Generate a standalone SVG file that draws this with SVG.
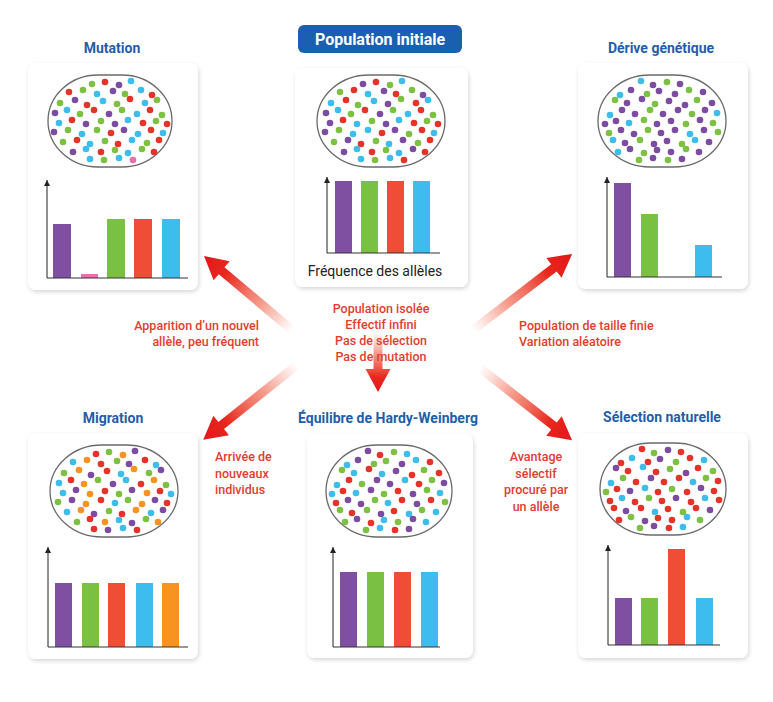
<svg xmlns="http://www.w3.org/2000/svg" width="773" height="702" viewBox="0 0 773 702">
<defs>
<style>
.card{fill:#fff;filter:url(#sh)}
.pop{fill:none;stroke:#6a6a6a;stroke-width:1.3}
.p{fill:#7b4c9f}.g{fill:#7dc143}.r{fill:#e63329}.b{fill:#3dbdec}.o{fill:#f7931e}.k{fill:#ea6cad}
.bp{fill:#7f4fa2}.bg{fill:#7ac143}.br{fill:#f04d37}.bb{fill:#3cbdee}.bo{fill:#f7931e}.bk{fill:#e86fb0}
.ax{stroke:#333;stroke-width:1;fill:none}
.ya{stroke:#222;stroke-width:1;fill:none;marker-end:url(#ah)}
.ti{font-family:Roboto,"Liberation Sans",sans-serif;font-weight:700;font-size:14px;fill:#1f5ea9;text-anchor:middle}
.lb{font-family:Roboto,"Liberation Sans",sans-serif;font-weight:500;font-size:12.5px;fill:#e23d2f}
.mid{text-anchor:middle}.end{text-anchor:end}
</style>
<filter id="sh" x="-10%" y="-10%" width="120%" height="120%">
<feDropShadow dx="1" dy="2" stdDeviation="2" flood-color="#000" flood-opacity="0.16"/>
</filter>
<marker id="ah" viewBox="0 0 8 8" refX="8" refY="4" markerWidth="7" markerHeight="6" markerUnits="userSpaceOnUse" orient="auto">
<path d="M0,0 L8,4 L0,8 z" fill="#222"/>
</marker>
<linearGradient id="ag" x1="0" y1="0" x2="1" y2="0">
<stop offset="0" stop-color="#f26b4f" stop-opacity="0"/>
<stop offset="0.35" stop-color="#ef5a40" stop-opacity="0.6"/>
<stop offset="0.75" stop-color="#e8281e" stop-opacity="1"/>
<stop offset="1" stop-color="#e3161b" stop-opacity="1"/>
</linearGradient>
</defs>
<rect width="773" height="702" fill="#fff"/>

<g id="connectors">
<g transform="translate(292,330) rotate(220.1)"><polygon fill="url(#ag)" points="0,-4.5 92,-4.5 92,-12.5 115,0 92,12.5 92,4.5 0,4.5"/></g>
<g transform="translate(473,330) rotate(-37.5)"><polygon fill="url(#ag)" points="0,-4.5 102,-4.5 102,-12.5 125,0 102,12.5 102,4.5 0,4.5"/></g>
<g transform="translate(297,365) rotate(141.4)"><polygon fill="url(#ag)" points="0,-4.5 97,-4.5 97,-12.5 120,0 97,12.5 97,4.5 0,4.5"/></g>
<g transform="translate(480,368) rotate(38.1)"><polygon fill="url(#ag)" points="0,-4.5 94,-4.5 94,-12.5 117,0 94,12.5 94,4.5 0,4.5"/></g>
<g transform="translate(378,332) rotate(90)"><polygon fill="url(#ag)" points="0,-4.5 37,-4.5 37,-12.5 60,0 37,12.5 37,4.5 0,4.5"/></g>
</g>

<g id="labels">
<text class="lb mid" x="381" y="313">Population isolée</text>
<text class="lb mid" x="381" y="329">Effectif infini</text>
<text class="lb mid" x="381" y="345">Pas de sélection</text>
<text class="lb mid" x="381" y="361">Pas de mutation</text>
<text class="lb end" x="259" y="330">Apparition d’un nouvel</text>
<text class="lb end" x="259" y="346">allèle, peu fréquent</text>
<text class="lb" x="519" y="330">Population de taille finie</text>
<text class="lb" x="519" y="346">Variation aléatoire</text>
<text class="lb" x="215" y="461">Arrivée de</text>
<text class="lb" x="215" y="478">nouveaux</text>
<text class="lb" x="215" y="494">individus</text>
<text class="lb mid" x="536" y="461">Avantage</text>
<text class="lb mid" x="536" y="478">sélectif</text>
<text class="lb mid" x="536" y="494">procuré par</text>
<text class="lb mid" x="536" y="511">un allèle</text>
</g>

<g id="initiale">
<rect x="298" y="25" width="164" height="28" rx="6" fill="#1b5fb0"/>
<text x="380" y="45" font-family="Roboto,'Liberation Sans',sans-serif" font-weight="700" font-size="16" fill="#fff" text-anchor="middle">Population initiale</text>
<rect class="card" x="295" y="68" width="173" height="219" rx="8"/>
<g transform="translate(381,121)">
<rect class="pop" x="-64" y="-46" width="128" height="92" rx="52" ry="46"/>
<circle class="p" cx="-18" cy="-37" r="3.3"/><circle class="r" cx="-5" cy="-39" r="3.3"/><circle class="g" cx="9" cy="-36" r="3.3"/><circle class="b" cx="21" cy="-40" r="3.3"/>
<circle class="g" cx="-41" cy="-29" r="3.3"/><circle class="r" cx="-27" cy="-31" r="3.3"/><circle class="b" cx="-13" cy="-27" r="3.3"/><circle class="p" cx="3" cy="-30" r="3.3"/><circle class="r" cx="15" cy="-27" r="3.3"/><circle class="g" cx="31" cy="-31" r="3.3"/><circle class="p" cx="42" cy="-26" r="3.3"/>
<circle class="b" cx="-50" cy="-18" r="3.3"/><circle class="r" cx="-35" cy="-21" r="3.3"/><circle class="g" cx="-23" cy="-16" r="3.3"/><circle class="b" cx="-7" cy="-20" r="3.3"/><circle class="p" cx="7" cy="-17" r="3.3"/><circle class="g" cx="20" cy="-22" r="3.3"/><circle class="r" cx="35" cy="-18" r="3.3"/><circle class="b" cx="47" cy="-21" r="3.3"/>
<circle class="p" cx="-55" cy="-8" r="3.3"/><circle class="b" cx="-43" cy="-11" r="3.3"/><circle class="g" cx="-30" cy="-7" r="3.3"/><circle class="r" cx="-16" cy="-11" r="3.3"/><circle class="p" cx="-1" cy="-7" r="3.3"/><circle class="g" cx="12" cy="-11" r="3.3"/><circle class="b" cx="27" cy="-7" r="3.3"/><circle class="r" cx="40" cy="-11" r="3.3"/><circle class="g" cx="52" cy="-6" r="3.3"/>
<circle class="p" cx="-51" cy="2" r="3.3"/><circle class="r" cx="-38" cy="-1" r="3.3"/><circle class="b" cx="-24" cy="3" r="3.3"/><circle class="g" cx="-9" cy="0" r="3.3"/><circle class="p" cx="5" cy="3" r="3.3"/><circle class="b" cx="18" cy="-1" r="3.3"/><circle class="r" cx="33" cy="2" r="3.3"/><circle class="g" cx="46" cy="0" r="3.3"/><circle class="r" cx="57" cy="3" r="3.3"/>
<circle class="p" cx="-56" cy="11" r="3.3"/><circle class="g" cx="-42" cy="9" r="3.3"/><circle class="b" cx="-28" cy="13" r="3.3"/><circle class="b" cx="-13" cy="9" r="3.3"/><circle class="r" cx="1" cy="12" r="3.3"/><circle class="p" cx="14" cy="9" r="3.3"/><circle class="g" cx="28" cy="13" r="3.3"/><circle class="r" cx="41" cy="9" r="3.3"/><circle class="b" cx="53" cy="12" r="3.3"/>
<circle class="g" cx="-47" cy="21" r="3.3"/><circle class="p" cx="-33" cy="19" r="3.3"/><circle class="r" cx="-20" cy="23" r="3.3"/><circle class="g" cx="-5" cy="20" r="3.3"/><circle class="b" cx="8" cy="23" r="3.3"/><circle class="p" cx="22" cy="19" r="3.3"/><circle class="g" cx="37" cy="22" r="3.3"/><circle class="r" cx="49" cy="19" r="3.3"/>
<circle class="p" cx="-37" cy="31" r="3.3"/><circle class="b" cx="-24" cy="28" r="3.3"/><circle class="r" cx="-9" cy="31" r="3.3"/><circle class="g" cx="5" cy="29" r="3.3"/><circle class="b" cx="18" cy="32" r="3.3"/><circle class="p" cx="32" cy="28" r="3.3"/><circle class="r" cx="44" cy="31" r="3.3"/>
<circle class="b" cx="-20" cy="38" r="3.3"/><circle class="g" cx="-6" cy="39" r="3.3"/><circle class="b" cx="9" cy="37" r="3.3"/><circle class="r" cx="23" cy="39" r="3.3"/>
</g>
<rect class="bp" x="335" y="181" width="17" height="72"/><rect class="bg" x="361" y="181" width="17" height="72"/><rect class="br" x="387" y="181" width="17" height="72"/><rect class="bb" x="413" y="181" width="17" height="72"/>
<line class="ax" x1="327" y1="253" x2="440" y2="253"/>
<line class="ya" x1="327" y1="253" x2="327" y2="177"/>
<text x="375" y="276" font-family="Roboto,'Liberation Sans',sans-serif" font-weight="400" font-size="14" fill="#222" text-anchor="middle">Fréquence des allèles</text>
</g>

<g id="mutation">
<text class="ti" x="112" y="53">Mutation</text>
<rect class="card" x="28" y="63" width="170" height="227" rx="8"/>
<g transform="translate(110,121)">
<rect class="pop" x="-62" y="-46" width="124" height="92" rx="50" ry="46"/>
<circle class="g" cx="-18" cy="-37" r="3.3"/><circle class="r" cx="-5" cy="-39" r="3.3"/><circle class="p" cx="9" cy="-36" r="3.3"/><circle class="b" cx="21" cy="-40" r="3.3"/>
<circle class="r" cx="-41" cy="-29" r="3.3"/><circle class="g" cx="-27" cy="-31" r="3.3"/><circle class="b" cx="-13" cy="-27" r="3.3"/><circle class="p" cx="3" cy="-30" r="3.3"/><circle class="g" cx="15" cy="-27" r="3.3"/><circle class="b" cx="31" cy="-31" r="3.3"/><circle class="r" cx="42" cy="-26" r="3.3"/>
<circle class="g" cx="-50" cy="-18" r="3.3"/><circle class="p" cx="-35" cy="-21" r="3.3"/><circle class="r" cx="-23" cy="-16" r="3.3"/><circle class="b" cx="-7" cy="-20" r="3.3"/><circle class="g" cx="7" cy="-17" r="3.3"/><circle class="r" cx="20" cy="-22" r="3.3"/><circle class="b" cx="35" cy="-18" r="3.3"/><circle class="g" cx="47" cy="-21" r="3.3"/>
<circle class="p" cx="-55" cy="-8" r="3.3"/><circle class="b" cx="-43" cy="-11" r="3.3"/><circle class="g" cx="-30" cy="-7" r="3.3"/><circle class="r" cx="-16" cy="-11" r="3.3"/><circle class="p" cx="-1" cy="-7" r="3.3"/><circle class="g" cx="12" cy="-11" r="3.3"/><circle class="b" cx="27" cy="-7" r="3.3"/><circle class="r" cx="40" cy="-11" r="3.3"/><circle class="g" cx="52" cy="-6" r="3.3"/>
<circle class="b" cx="-51" cy="2" r="3.3"/><circle class="r" cx="-38" cy="-1" r="3.3"/><circle class="p" cx="-24" cy="3" r="3.3"/><circle class="g" cx="-9" cy="0" r="3.3"/><circle class="p" cx="5" cy="3" r="3.3"/><circle class="b" cx="18" cy="-1" r="3.3"/><circle class="r" cx="33" cy="2" r="3.3"/><circle class="g" cx="46" cy="0" r="3.3"/><circle class="r" cx="57" cy="3" r="3.3"/>
<circle class="p" cx="-56" cy="11" r="3.3"/><circle class="g" cx="-42" cy="9" r="3.3"/><circle class="b" cx="-28" cy="13" r="3.3"/><circle class="g" cx="-13" cy="9" r="3.3"/><circle class="r" cx="1" cy="12" r="3.3"/><circle class="p" cx="14" cy="9" r="3.3"/><circle class="b" cx="28" cy="13" r="3.3"/><circle class="r" cx="41" cy="9" r="3.3"/><circle class="b" cx="53" cy="12" r="3.3"/>
<circle class="g" cx="-47" cy="21" r="3.3"/><circle class="r" cx="-33" cy="19" r="3.3"/><circle class="b" cx="-20" cy="23" r="3.3"/><circle class="g" cx="-5" cy="20" r="3.3"/><circle class="r" cx="8" cy="23" r="3.3"/><circle class="b" cx="22" cy="19" r="3.3"/><circle class="g" cx="37" cy="22" r="3.3"/><circle class="r" cx="49" cy="19" r="3.3"/>
<circle class="p" cx="-37" cy="31" r="3.3"/><circle class="b" cx="-24" cy="28" r="3.3"/><circle class="r" cx="-9" cy="31" r="3.3"/><circle class="g" cx="5" cy="29" r="3.3"/><circle class="b" cx="18" cy="32" r="3.3"/><circle class="g" cx="32" cy="28" r="3.3"/><circle class="r" cx="44" cy="31" r="3.3"/>
<circle class="b" cx="-20" cy="38" r="3.3"/><circle class="g" cx="-6" cy="39" r="3.3"/><circle class="b" cx="9" cy="37" r="3.3"/><circle class="k" cx="23" cy="39" r="3.3"/>
</g>
<rect class="bp" x="53" y="224" width="18" height="54"/><rect class="bk" x="81" y="274" width="17" height="4"/><rect class="bg" x="107" y="219" width="18" height="59"/><rect class="br" x="134" y="219" width="18" height="59"/><rect class="bb" x="162" y="219" width="18" height="59"/>
<line class="ax" x1="47" y1="278" x2="188" y2="278"/>
<line class="ya" x1="47" y1="278" x2="47" y2="180"/>
</g>

<g id="derive">
<text class="ti" x="661" y="53">Dérive génétique</text>
<rect class="card" x="578" y="63" width="170" height="226" rx="8"/>
<g transform="translate(662,121)">
<rect class="pop" x="-64" y="-46" width="128" height="92" rx="52" ry="46"/>
<g transform="scale(-1,1)">
<circle class="p" cx="-18" cy="-37" r="3.3"/><circle class="g" cx="-5" cy="-39" r="3.3"/><circle class="p" cx="9" cy="-36" r="3.3"/><circle class="b" cx="21" cy="-40" r="3.3"/>
<circle class="p" cx="-41" cy="-29" r="3.3"/><circle class="g" cx="-27" cy="-31" r="3.3"/><circle class="p" cx="-13" cy="-27" r="3.3"/><circle class="p" cx="3" cy="-30" r="3.3"/><circle class="g" cx="15" cy="-27" r="3.3"/><circle class="p" cx="31" cy="-31" r="3.3"/><circle class="b" cx="42" cy="-26" r="3.3"/>
<circle class="p" cx="-50" cy="-18" r="3.3"/><circle class="g" cx="-35" cy="-21" r="3.3"/><circle class="p" cx="-23" cy="-16" r="3.3"/><circle class="p" cx="-7" cy="-20" r="3.3"/><circle class="g" cx="7" cy="-17" r="3.3"/><circle class="p" cx="20" cy="-22" r="3.3"/><circle class="p" cx="35" cy="-18" r="3.3"/><circle class="g" cx="47" cy="-21" r="3.3"/>
<circle class="b" cx="-55" cy="-8" r="3.3"/><circle class="p" cx="-43" cy="-11" r="3.3"/><circle class="g" cx="-30" cy="-7" r="3.3"/><circle class="p" cx="-16" cy="-11" r="3.3"/><circle class="p" cx="-1" cy="-7" r="3.3"/><circle class="g" cx="12" cy="-11" r="3.3"/><circle class="p" cx="27" cy="-7" r="3.3"/><circle class="p" cx="40" cy="-11" r="3.3"/><circle class="b" cx="52" cy="-6" r="3.3"/>
<circle class="g" cx="-51" cy="2" r="3.3"/><circle class="p" cx="-38" cy="-1" r="3.3"/><circle class="g" cx="-24" cy="3" r="3.3"/><circle class="p" cx="-9" cy="0" r="3.3"/><circle class="p" cx="5" cy="3" r="3.3"/><circle class="g" cx="18" cy="-1" r="3.3"/><circle class="b" cx="33" cy="2" r="3.3"/><circle class="p" cx="46" cy="0" r="3.3"/><circle class="p" cx="57" cy="3" r="3.3"/>
<circle class="g" cx="-56" cy="11" r="3.3"/><circle class="p" cx="-42" cy="9" r="3.3"/><circle class="b" cx="-28" cy="13" r="3.3"/><circle class="p" cx="-13" cy="9" r="3.3"/><circle class="p" cx="1" cy="12" r="3.3"/><circle class="g" cx="14" cy="9" r="3.3"/><circle class="p" cx="28" cy="13" r="3.3"/><circle class="p" cx="41" cy="9" r="3.3"/><circle class="g" cx="53" cy="12" r="3.3"/>
<circle class="p" cx="-47" cy="21" r="3.3"/><circle class="b" cx="-33" cy="19" r="3.3"/><circle class="g" cx="-20" cy="23" r="3.3"/><circle class="p" cx="-5" cy="20" r="3.3"/><circle class="p" cx="8" cy="23" r="3.3"/><circle class="g" cx="22" cy="19" r="3.3"/><circle class="p" cx="37" cy="22" r="3.3"/><circle class="b" cx="49" cy="19" r="3.3"/>
<circle class="p" cx="-37" cy="31" r="3.3"/><circle class="g" cx="-24" cy="28" r="3.3"/><circle class="p" cx="-9" cy="31" r="3.3"/><circle class="p" cx="5" cy="29" r="3.3"/><circle class="g" cx="18" cy="32" r="3.3"/><circle class="p" cx="32" cy="28" r="3.3"/><circle class="b" cx="44" cy="31" r="3.3"/>
<circle class="p" cx="-20" cy="38" r="3.3"/><circle class="g" cx="-6" cy="39" r="3.3"/><circle class="p" cx="9" cy="37" r="3.3"/><circle class="g" cx="23" cy="39" r="3.3"/>
</g>
</g>
<rect class="bp" x="614" y="183" width="17" height="94"/><rect class="bg" x="641" y="214" width="17" height="63"/><rect class="bb" x="695" y="245" width="17" height="32"/>
<line class="ax" x1="607" y1="277" x2="722" y2="277"/>
<line class="ya" x1="607" y1="277" x2="607" y2="177"/>
</g>

<g id="migration">
<text class="ti" x="113" y="423">Migration</text>
<rect class="card" x="28" y="433" width="170" height="226" rx="8"/>
<g transform="translate(114,491)">
<rect class="pop" x="-64" y="-46" width="128" height="92" rx="52" ry="46"/>
<circle class="r" cx="-18" cy="-37" r="3.3"/><circle class="g" cx="-5" cy="-39" r="3.3"/><circle class="o" cx="9" cy="-36" r="3.3"/><circle class="p" cx="21" cy="-40" r="3.3"/>
<circle class="b" cx="-41" cy="-29" r="3.3"/><circle class="o" cx="-27" cy="-31" r="3.3"/><circle class="r" cx="-13" cy="-27" r="3.3"/><circle class="g" cx="3" cy="-30" r="3.3"/><circle class="p" cx="15" cy="-27" r="3.3"/><circle class="r" cx="31" cy="-31" r="3.3"/><circle class="b" cx="42" cy="-26" r="3.3"/>
<circle class="g" cx="-50" cy="-18" r="3.3"/><circle class="o" cx="-35" cy="-21" r="3.3"/><circle class="p" cx="-23" cy="-16" r="3.3"/><circle class="r" cx="-7" cy="-20" r="3.3"/><circle class="b" cx="7" cy="-17" r="3.3"/><circle class="o" cx="20" cy="-22" r="3.3"/><circle class="g" cx="35" cy="-18" r="3.3"/><circle class="p" cx="47" cy="-21" r="3.3"/>
<circle class="b" cx="-55" cy="-8" r="3.3"/><circle class="r" cx="-43" cy="-11" r="3.3"/><circle class="o" cx="-30" cy="-7" r="3.3"/><circle class="g" cx="-16" cy="-11" r="3.3"/><circle class="p" cx="-1" cy="-7" r="3.3"/><circle class="b" cx="12" cy="-11" r="3.3"/><circle class="r" cx="27" cy="-7" r="3.3"/><circle class="o" cx="40" cy="-11" r="3.3"/><circle class="g" cx="52" cy="-6" r="3.3"/>
<circle class="b" cx="-51" cy="2" r="3.3"/><circle class="p" cx="-38" cy="-1" r="3.3"/><circle class="o" cx="-24" cy="3" r="3.3"/><circle class="r" cx="-9" cy="0" r="3.3"/><circle class="g" cx="5" cy="3" r="3.3"/><circle class="p" cx="18" cy="-1" r="3.3"/><circle class="o" cx="33" cy="2" r="3.3"/><circle class="r" cx="46" cy="0" r="3.3"/><circle class="b" cx="57" cy="3" r="3.3"/>
<circle class="g" cx="-56" cy="11" r="3.3"/><circle class="p" cx="-42" cy="9" r="3.3"/><circle class="o" cx="-28" cy="13" r="3.3"/><circle class="r" cx="-13" cy="9" r="3.3"/><circle class="b" cx="1" cy="12" r="3.3"/><circle class="g" cx="14" cy="9" r="3.3"/><circle class="o" cx="28" cy="13" r="3.3"/><circle class="p" cx="41" cy="9" r="3.3"/><circle class="r" cx="53" cy="12" r="3.3"/>
<circle class="b" cx="-47" cy="21" r="3.3"/><circle class="o" cx="-33" cy="19" r="3.3"/><circle class="p" cx="-20" cy="23" r="3.3"/><circle class="g" cx="-5" cy="20" r="3.3"/><circle class="r" cx="8" cy="23" r="3.3"/><circle class="o" cx="22" cy="19" r="3.3"/><circle class="b" cx="37" cy="22" r="3.3"/><circle class="p" cx="49" cy="19" r="3.3"/>
<circle class="g" cx="-37" cy="31" r="3.3"/><circle class="r" cx="-24" cy="28" r="3.3"/><circle class="o" cx="-9" cy="31" r="3.3"/><circle class="b" cx="5" cy="29" r="3.3"/><circle class="p" cx="18" cy="32" r="3.3"/><circle class="g" cx="32" cy="28" r="3.3"/><circle class="o" cx="44" cy="31" r="3.3"/>
<circle class="r" cx="-20" cy="38" r="3.3"/><circle class="p" cx="-6" cy="39" r="3.3"/><circle class="b" cx="9" cy="37" r="3.3"/><circle class="r" cx="23" cy="39" r="3.3"/>
</g>
<rect class="bp" x="55" y="583" width="17" height="64"/><rect class="bg" x="82" y="583" width="17" height="64"/><rect class="br" x="108" y="583" width="17" height="64"/><rect class="bb" x="136" y="583" width="17" height="64"/><rect class="bo" x="162" y="583" width="17" height="64"/>
<line class="ax" x1="48" y1="647" x2="188" y2="647"/>
<line class="ya" x1="48" y1="647" x2="48" y2="547"/>
</g>

<g id="equilibre">
<text class="ti" x="388" y="423" font-size="14.5">Équilibre de Hardy-Weinberg</text>
<rect class="card" x="307" y="434" width="166" height="224" rx="8"/>
<g transform="translate(389,491)">
<rect class="pop" x="-63" y="-46" width="126" height="92" rx="51" ry="46"/>
<g transform="scale(-1,1)">
<circle class="b" cx="-18" cy="-37" r="3.3"/><circle class="g" cx="-5" cy="-39" r="3.3"/><circle class="r" cx="9" cy="-36" r="3.3"/><circle class="p" cx="21" cy="-40" r="3.3"/>
<circle class="r" cx="-41" cy="-29" r="3.3"/><circle class="b" cx="-27" cy="-31" r="3.3"/><circle class="p" cx="-13" cy="-27" r="3.3"/><circle class="g" cx="3" cy="-30" r="3.3"/><circle class="g" cx="15" cy="-27" r="3.3"/><circle class="p" cx="31" cy="-31" r="3.3"/><circle class="b" cx="42" cy="-26" r="3.3"/>
<circle class="r" cx="-50" cy="-18" r="3.3"/><circle class="g" cx="-35" cy="-21" r="3.3"/><circle class="r" cx="-23" cy="-16" r="3.3"/><circle class="p" cx="-7" cy="-20" r="3.3"/><circle class="b" cx="7" cy="-17" r="3.3"/><circle class="r" cx="20" cy="-22" r="3.3"/><circle class="b" cx="35" cy="-18" r="3.3"/><circle class="g" cx="47" cy="-21" r="3.3"/>
<circle class="p" cx="-55" cy="-8" r="3.3"/><circle class="g" cx="-43" cy="-11" r="3.3"/><circle class="r" cx="-30" cy="-7" r="3.3"/><circle class="b" cx="-16" cy="-11" r="3.3"/><circle class="p" cx="-1" cy="-7" r="3.3"/><circle class="p" cx="12" cy="-11" r="3.3"/><circle class="g" cx="27" cy="-7" r="3.3"/><circle class="r" cx="40" cy="-11" r="3.3"/><circle class="b" cx="52" cy="-6" r="3.3"/>
<circle class="b" cx="-51" cy="2" r="3.3"/><circle class="g" cx="-38" cy="-1" r="3.3"/><circle class="p" cx="-24" cy="3" r="3.3"/><circle class="r" cx="-9" cy="0" r="3.3"/><circle class="g" cx="5" cy="3" r="3.3"/><circle class="p" cx="18" cy="-1" r="3.3"/><circle class="b" cx="33" cy="2" r="3.3"/><circle class="r" cx="46" cy="0" r="3.3"/><circle class="b" cx="57" cy="3" r="3.3"/>
<circle class="g" cx="-56" cy="11" r="3.3"/><circle class="r" cx="-42" cy="9" r="3.3"/><circle class="p" cx="-28" cy="13" r="3.3"/><circle class="r" cx="-13" cy="9" r="3.3"/><circle class="b" cx="1" cy="12" r="3.3"/><circle class="g" cx="14" cy="9" r="3.3"/><circle class="p" cx="28" cy="13" r="3.3"/><circle class="p" cx="41" cy="9" r="3.3"/><circle class="r" cx="53" cy="12" r="3.3"/>
<circle class="b" cx="-47" cy="21" r="3.3"/><circle class="g" cx="-33" cy="19" r="3.3"/><circle class="b" cx="-20" cy="23" r="3.3"/><circle class="r" cx="-5" cy="20" r="3.3"/><circle class="p" cx="8" cy="23" r="3.3"/><circle class="g" cx="22" cy="19" r="3.3"/><circle class="r" cx="37" cy="22" r="3.3"/><circle class="g" cx="49" cy="19" r="3.3"/>
<circle class="b" cx="-37" cy="31" r="3.3"/><circle class="p" cx="-24" cy="28" r="3.3"/><circle class="g" cx="-9" cy="31" r="3.3"/><circle class="b" cx="5" cy="29" r="3.3"/><circle class="r" cx="18" cy="32" r="3.3"/><circle class="p" cx="32" cy="28" r="3.3"/><circle class="g" cx="44" cy="31" r="3.3"/>
<circle class="p" cx="-20" cy="38" r="3.3"/><circle class="r" cx="-6" cy="39" r="3.3"/><circle class="b" cx="9" cy="37" r="3.3"/><circle class="g" cx="23" cy="39" r="3.3"/>
</g>
</g>
<rect class="bp" x="340" y="572" width="17" height="75"/><rect class="bg" x="367" y="572" width="17" height="75"/><rect class="br" x="394" y="572" width="17" height="75"/><rect class="bb" x="421" y="572" width="17" height="75"/>
<line class="ax" x1="333" y1="647" x2="440" y2="647"/>
<line class="ya" x1="333" y1="647" x2="333" y2="547"/>
</g>

<g id="selection">
<text class="ti" x="662" y="422">Sélection naturelle</text>
<rect class="card" x="578" y="433" width="170" height="225" rx="8"/>
<g transform="translate(663,489)">
<rect class="pop" x="-63" y="-46" width="126" height="92" rx="51" ry="46"/>
<g transform="scale(-1,1)">
<circle class="r" cx="-18" cy="-37" r="3.3"/><circle class="p" cx="-5" cy="-39" r="3.3"/><circle class="g" cx="9" cy="-36" r="3.3"/><circle class="r" cx="21" cy="-40" r="3.3"/>
<circle class="b" cx="-41" cy="-29" r="3.3"/><circle class="r" cx="-27" cy="-31" r="3.3"/><circle class="g" cx="-13" cy="-27" r="3.3"/><circle class="p" cx="3" cy="-30" r="3.3"/><circle class="r" cx="15" cy="-27" r="3.3"/><circle class="b" cx="31" cy="-31" r="3.3"/><circle class="r" cx="42" cy="-26" r="3.3"/>
<circle class="g" cx="-50" cy="-18" r="3.3"/><circle class="r" cx="-35" cy="-21" r="3.3"/><circle class="p" cx="-23" cy="-16" r="3.3"/><circle class="g" cx="-7" cy="-20" r="3.3"/><circle class="r" cx="7" cy="-17" r="3.3"/><circle class="b" cx="20" cy="-22" r="3.3"/><circle class="r" cx="35" cy="-18" r="3.3"/><circle class="p" cx="47" cy="-21" r="3.3"/>
<circle class="r" cx="-55" cy="-8" r="3.3"/><circle class="g" cx="-43" cy="-11" r="3.3"/><circle class="b" cx="-30" cy="-7" r="3.3"/><circle class="r" cx="-16" cy="-11" r="3.3"/><circle class="r" cx="-1" cy="-7" r="3.3"/><circle class="p" cx="12" cy="-11" r="3.3"/><circle class="r" cx="27" cy="-7" r="3.3"/><circle class="g" cx="40" cy="-11" r="3.3"/><circle class="b" cx="52" cy="-6" r="3.3"/>
<circle class="r" cx="-51" cy="2" r="3.3"/><circle class="p" cx="-38" cy="-1" r="3.3"/><circle class="r" cx="-24" cy="3" r="3.3"/><circle class="g" cx="-9" cy="0" r="3.3"/><circle class="r" cx="5" cy="3" r="3.3"/><circle class="b" cx="18" cy="-1" r="3.3"/><circle class="p" cx="33" cy="2" r="3.3"/><circle class="r" cx="46" cy="0" r="3.3"/><circle class="g" cx="57" cy="3" r="3.3"/>
<circle class="r" cx="-56" cy="11" r="3.3"/><circle class="b" cx="-42" cy="9" r="3.3"/><circle class="r" cx="-28" cy="13" r="3.3"/><circle class="p" cx="-13" cy="9" r="3.3"/><circle class="r" cx="1" cy="12" r="3.3"/><circle class="g" cx="14" cy="9" r="3.3"/><circle class="r" cx="28" cy="13" r="3.3"/><circle class="b" cx="41" cy="9" r="3.3"/><circle class="r" cx="53" cy="12" r="3.3"/>
<circle class="p" cx="-47" cy="21" r="3.3"/><circle class="r" cx="-33" cy="19" r="3.3"/><circle class="g" cx="-20" cy="23" r="3.3"/><circle class="r" cx="-5" cy="20" r="3.3"/><circle class="b" cx="8" cy="23" r="3.3"/><circle class="r" cx="22" cy="19" r="3.3"/><circle class="p" cx="37" cy="22" r="3.3"/><circle class="r" cx="49" cy="19" r="3.3"/>
<circle class="g" cx="-37" cy="31" r="3.3"/><circle class="b" cx="-24" cy="28" r="3.3"/><circle class="r" cx="-9" cy="31" r="3.3"/><circle class="r" cx="5" cy="29" r="3.3"/><circle class="p" cx="18" cy="32" r="3.3"/><circle class="g" cx="32" cy="28" r="3.3"/><circle class="r" cx="44" cy="31" r="3.3"/>
<circle class="b" cx="-20" cy="38" r="3.3"/><circle class="r" cx="-6" cy="39" r="3.3"/><circle class="p" cx="9" cy="37" r="3.3"/><circle class="g" cx="23" cy="39" r="3.3"/>
</g>
</g>
<rect class="bp" x="615" y="598" width="17" height="47"/><rect class="bg" x="641" y="598" width="17" height="47"/><rect class="br" x="668" y="549" width="17" height="96"/><rect class="bb" x="696" y="598" width="17" height="47"/>
<line class="ax" x1="608" y1="645" x2="720" y2="645"/>
<line class="ya" x1="608" y1="645" x2="608" y2="545"/>
</g>
</svg>
